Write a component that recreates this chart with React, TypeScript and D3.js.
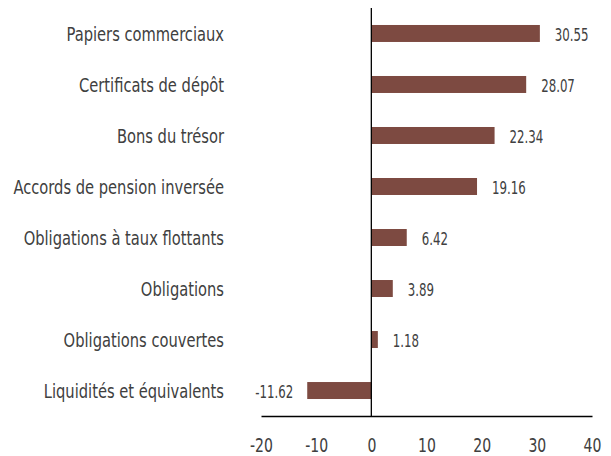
import React, { useEffect, useRef } from "react";
import * as d3 from "d3";

const categories = [
  "Papiers commerciaux",
  "Certificats de dépôt",
  "Bons du trésor",
  "Accords de pension inversée",
  "Obligations à taux flottants",
  "Obligations",
  "Obligations couvertes",
  "Liquidités et équivalents",
];
const values = [30.55, 28.07, 22.34, 19.16, 6.42, 3.89, 1.18, -11.62];
const xTicks = [-20, -10, 0, 10, 20, 30, 40];

const width = 611;
const height = 456;
const font = "'DejaVu Sans Condensed', 'Liberation Sans', sans-serif";

export default function App() {
  const svgRef = useRef<SVGSVGElement>(null);

  useEffect(() => {
    const svg = d3.select(svgRef.current);
    svg.selectAll("*").remove();

    const x = d3.scaleLinear().domain([-20, 40]).range([261, 592]);
    const y = d3.scaleBand().domain(categories).range([8, 416]).paddingInner(0.667).paddingOuter(0.333);

    const data = categories.map((c, i) => ({ c, v: values[i] }));
    const cy = (d: { c: string }) => y(d.c)! + y.bandwidth() / 2;

    svg.selectAll(".bar")
      .data(data)
      .join("rect")
      .attr("class", "bar")
      .attr("x", (d) => x(Math.min(0, d.v)))
      .attr("y", (d) => y(d.c)!)
      .attr("width", (d) => Math.abs(x(d.v) - x(0)))
      .attr("height", y.bandwidth())
      .attr("fill", "#7d4a41");

    // value labels (squeezed to look like the condensed face)
    svg.selectAll(".val")
      .data(data)
      .join("text")
      .attr("class", "val")
      .attr("transform", (d) => `translate(${d.v >= 0 ? x(d.v) + 15 : x(d.v) - 14},${cy(d)}) scale(0.77,1)`)
      .attr("dy", "0.42em")
      .attr("text-anchor", (d) => (d.v >= 0 ? "start" : "end"))
      .attr("font-family", font)
      .attr("font-size", 17)
      .attr("fill", "#404040")
      .text((d) => d.v.toFixed(2));

    // category labels
    svg.selectAll(".cat")
      .data(data)
      .join("text")
      .attr("class", "cat")
      .attr("transform", (d) => `translate(224,${cy(d)}) scale(0.86,1)`)
      .attr("dy", "0.38em")
      .attr("text-anchor", "end")
      .attr("font-family", font)
      .attr("font-size", 19)
      .attr("fill", "#404040")
      .text((d) => d.c);

    // zero line
    svg.append("line")
      .attr("x1", x(0)).attr("x2", x(0))
      .attr("y1", 8).attr("y2", 416)
      .attr("stroke", "#000").attr("stroke-width", 1.3);

    // x axis
    const xAxis = d3.axisBottom(x).tickValues(xTicks).tickSize(0).tickPadding(22).tickFormat((d) => String(d));
    const g = svg.append("g").attr("transform", "translate(0,416)").call(xAxis);
    g.select(".domain").attr("stroke", "#000").attr("stroke-width", 1.3);
    g.selectAll("text")
      .attr("transform", "scale(0.78,1)")
      .attr("font-family", font)
      .attr("font-size", 20)
      .attr("fill", "#404040");
  }, []);

  return (
    <svg ref={svgRef} width={width} height={height} style={{ position: "absolute", left: 0, top: 0 }} />
  );
}
